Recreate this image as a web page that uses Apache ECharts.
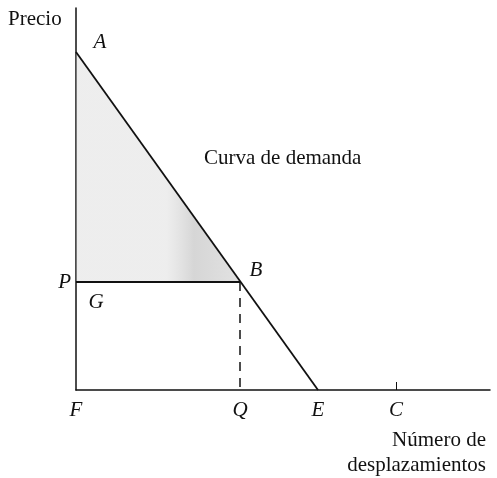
<!DOCTYPE html>
<html>
<head>
<meta charset="utf-8">
<script src="https://cdn.jsdelivr.net/npm/echarts@6/dist/echarts.min.js"></script>
<style>
  html, body { margin: 0; padding: 0; background: #fff; }
  #main { width: 497px; height: 478px; }
</style>
</head>
<body>
<div id="main"></div>
<script>
// key points of the diagram (x = number of trips, y = price)
var xA = 0, yA = 8.45;
var xQ = 4.1, yP = 2.7;
var xE = 6.05, xC = 8.0;
var xMax = 10.35, yMax = 9.55;

var xTickValues = [0, xQ, xE, xC];
var xTickNames = ['F', 'Q', 'E', 'C'];
var yTickValues = [yP];
var yTickNames = ['P'];

var demandLine = [[xA, yA], [xE, 0]];
var priceLine = [[0, yP], [xQ, yP]];
var quantityLine = [[xQ, yP], [xQ, 0]];
var surplusArea = [[xA, yA], [0, yP], [xQ, yP]];

// letters placed next to points of the diagram
var letterNames = ['A', 'B', 'G'];
var letterPoints = [[xA, yA], [xQ, yP], [0, yP]];
var letterShift = [[24, -10], [16, -12], [20, 20]];
var curveLabelPoint = [3.2, 5.8];

var serif = '"Liberation Serif", "DejaVu Serif", serif';
var fs = 21;

var dom = document.getElementById('main');
var myChart = echarts.init(dom);

var option = {
    animation: false,
    backgroundColor: '#fff',
    grid: { left: 76, right: 7, top: 8, bottom: 88 },
    xAxis: {
        type: 'value',
        min: 0,
        max: xMax,
        axisLine: { show: true, lineStyle: { color: '#111', width: 1.5 } },
        splitLine: { show: false },
        axisTick: {
            show: true, inside: true, length: 8,
            customValues: [xC],
            lineStyle: { color: '#111', width: 1 }
        },
        axisLabel: {
            customValues: xTickValues,
            margin: 10,
            fontFamily: serif, fontStyle: 'italic', fontSize: fs, color: '#111',
            formatter: function (v) {
                var i = xTickValues.indexOf(v);
                return i >= 0 ? xTickNames[i] : '';
            }
        }
    },
    yAxis: {
        type: 'value',
        min: 0,
        max: yMax,
        axisLine: { show: true, lineStyle: { color: '#111', width: 1.5 } },
        splitLine: { show: false },
        axisTick: { show: false },
        axisLabel: {
            customValues: yTickValues,
            margin: 5,
            fontFamily: serif, fontStyle: 'italic', fontSize: fs, color: '#111',
            formatter: function (v) {
                var i = yTickValues.indexOf(v);
                return i >= 0 ? yTickNames[i] : '';
            }
        }
    },
    series: [
        {
            type: 'custom',
            renderItem: function (params, api) {
                var pts = surplusArea.map(function (p) { return api.coord(p); });
                return {
                    type: 'polygon',
                    shape: { points: pts },
                    style: {
                        fill: new echarts.graphic.LinearGradient(0, 0, 1, 0, [
                            { offset: 0, color: 'rgba(205,205,205,0.35)' },
                            { offset: 0.55, color: 'rgba(205,205,205,0.35)' },
                            { offset: 0.72, color: 'rgba(180,180,180,0.55)' },
                            { offset: 1, color: 'rgba(190,190,190,0.45)' }
                        ])
                    }
                };
            },
            data: [0],
            z: 1
        },
        {
            type: 'line', data: demandLine, showSymbol: false,
            lineStyle: { color: '#111', width: 1.8 }, z: 3
        },
        {
            type: 'line', data: priceLine, showSymbol: false,
            lineStyle: { color: '#111', width: 1.8 }, z: 3
        },
        {
            type: 'line', data: quantityLine, showSymbol: false,
            lineStyle: { color: '#111', width: 1.5, type: [9, 7] }, z: 3
        }
    ]
};

myChart.setOption(option);

// text labels, anchored to the data points through the chart's scales
var texts = [
    {
        type: 'text', left: 8, top: 9,
        style: { text: 'Precio', font: fs + 'px ' + serif, fill: '#111' }
    },
    {
        type: 'text', right: 11, top: 430,
        style: { text: 'Número de', font: fs + 'px ' + serif, fill: '#111' }
    },
    {
        type: 'text', right: 11, top: 455,
        style: { text: 'desplazamientos', font: fs + 'px ' + serif, fill: '#111' }
    }
];
letterNames.forEach(function (name, i) {
    var px = myChart.convertToPixel({ gridIndex: 0 }, letterPoints[i]);
    texts.push({
        type: 'text',
        x: px[0] + letterShift[i][0],
        y: px[1] + letterShift[i][1],
        style: {
            text: name, font: 'italic ' + fs + 'px ' + serif, fill: '#111',
            align: 'center', verticalAlign: 'middle'
        },
        z: 10
    });
});
var cp = myChart.convertToPixel({ gridIndex: 0 }, curveLabelPoint);
texts.push({
    type: 'text', x: cp[0], y: cp[1],
    style: {
        text: 'Curva de demanda', font: fs + 'px ' + serif, fill: '#111',
        align: 'left', verticalAlign: 'middle'
    },
    z: 10
});
myChart.setOption({ graphic: texts });
</script>
</body>
</html>
